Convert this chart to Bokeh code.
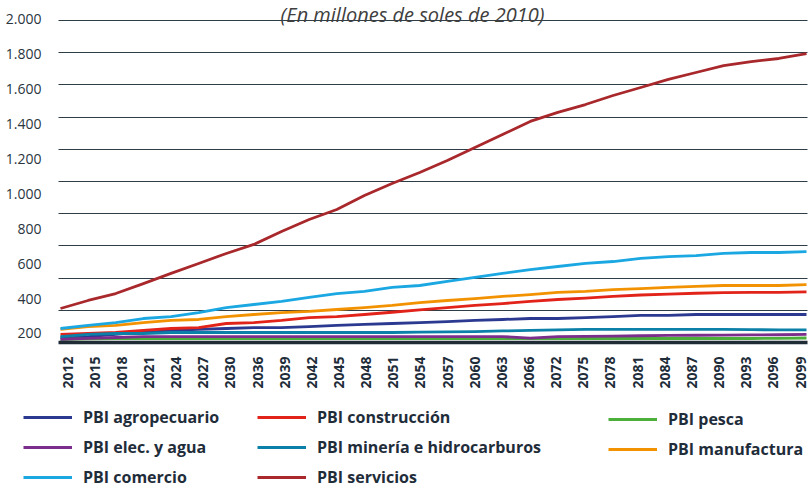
import math
from bokeh.plotting import figure
from bokeh.models import Range1d, LinearAxis, FixedTicker, Grid, Legend, LegendItem, Label, ColumnDataSource
from bokeh.embed import file_html
from bokeh.resources import INLINE

# ---------------- data ----------------
years = [2012, 2015, 2018, 2021, 2024, 2027, 2030, 2036, 2039, 2042, 2045, 2048, 2051, 2054,
         2057, 2060, 2063, 2066, 2072, 2075, 2078, 2081, 2084, 2087, 2090, 2093, 2096, 2099]

agropecuario = [31, 37, 50, 68, 75, 81, 87, 93, 93, 99, 106, 112, 118, 124,
                130, 137, 143, 149, 149, 155, 161, 168, 168, 174, 174, 174, 174, 174]
construccion = [50, 56, 62, 75, 87, 93, 118, 124, 137, 155, 161, 174, 188, 203,
                217, 230, 242, 255, 267, 276, 286, 295, 301, 306, 310, 311, 311, 314]
pesca = [19, 22, 25, 25, 25, 25, 25, 25, 25, 25, 25, 25, 25, 25,
         25, 25, 25, 25, 25, 25, 25, 25, 25, 25, 25, 25, 26, 28]
elec_agua = [19, 25, 31, 37, 37, 37, 37, 37, 37, 37, 37, 37, 37, 37,
             37, 37, 37, 27, 37, 38, 40, 42, 44, 45, 46, 47, 48, 50]
mineria = [37, 50, 56, 56, 62, 62, 62, 62, 62, 62, 62, 62, 62, 65,
           66, 68, 72, 75, 78, 81, 81, 81, 81, 81, 81, 80, 78, 78]
manufactura = [81, 99, 106, 124, 137, 143, 161, 174, 186, 193, 205, 217, 230, 248,
               261, 273, 286, 298, 311, 317, 329, 335, 342, 348, 354, 354, 354, 360]
comercio = [87, 106, 124, 149, 161, 186, 217, 236, 255, 280, 304, 317, 342, 354,
            379, 404, 429, 453, 472, 491, 503, 522, 534, 540, 553, 559, 559, 565]
servicios = [211, 261, 304, 366, 429, 491, 553, 609, 689, 764, 826, 913, 988, 1056,
             1130, 1211, 1292, 1373, 1429, 1478, 1534, 1584, 1634, 1677, 1720, 1745, 1764, 1795]

series_names = ["PBI agropecuario", "PBI construcción", "PBI pesca", "PBI elec. y agua",
                "PBI minería e hidrocarburos", "PBI manufactura", "PBI comercio", "PBI servicios"]
series_values = [agropecuario, construccion, pesca, elec_agua, mineria, manufactura, comercio, servicios]
series_colors = ["#2b3990", "#e2231a", "#4caf3a", "#7c2e8c", "#0b80a8", "#f39200", "#1ba8e2", "#a8282c"]

grid_values = [200, 400, 600, 800, 1000, 1200, 1400, 1600, 1800, 2000]
y_tick_values = [200, 400, 600, 800, 1000, 1200, 1400, 1600, 1800, 2000]
y_tick_labels = ["200", "400", "600", "800", "1.000", "1.200", "1.400", "1.600", "1.800", "2.000"]
title_text = "(En millones de soles de 2010)"

# ---------------- figure (frame covers the whole canvas) ----------------
idx = list(range(len(years)))
p = figure(width=809, height=489, output_backend="svg", toolbar_location=None,
           x_axis_location=None, y_axis_location=None,
           x_range=Range1d(-2.1716, 27.1086), y_range=Range1d(-913.04, 2124.22),
           min_border_left=0, min_border_right=0, min_border_top=0, min_border_bottom=0)
p.outline_line_color = None
p.background_fill_color = "white"
p.border_fill_color = "white"
for g in list(p.grid):
    g.visible = False
p.extra_x_ranges = {"xlab": Range1d(-2.4680, 27.3315)}
p.extra_y_ranges = {"ylab": Range1d(-694.3, 2108.9)}

plot_left, plot_right = -0.0724, 27.0362   # x-extent of the plotting area (main x units)

grid = Grid(dimension=1, ticker=FixedTicker(ticks=grid_values),
            grid_line_color="#2f3d47", grid_line_width=1)
if "cross_bounds" in Grid.properties():
    grid.cross_bounds = (plot_left, plot_right)
p.add_layout(grid)

renderers = []
for name, vals, col in zip(series_names, series_values, series_colors):
    src = ColumnDataSource(dict(x=idx, y=vals))
    r = p.line("x", "y", source=src, line_color=col, line_width=2.8, line_join="round")
    renderers.append(r)

xaxis = LinearAxis(x_range_name="xlab", ticker=FixedTicker(ticks=idx),
                   major_label_overrides={i: str(y) for i, y in zip(idx, years)})
xaxis.fixed_location = 0
xaxis.bounds = (-0.3315, 27.258)
xaxis.major_label_orientation = math.pi / 2
xaxis.major_tick_line_color = None
xaxis.minor_tick_line_color = None
xaxis.axis_line_width = 3.5
xaxis.axis_line_color = "#1f2b35"
xaxis.major_label_text_font = "Open Sans"
xaxis.major_label_text_font_style = "bold"
xaxis.major_label_text_font_size = "14px"
xaxis.major_label_text_color = "#1f2d3a"
xaxis.major_label_standoff = 8
p.add_layout(xaxis, "below")

yaxis = LinearAxis(y_range_name="ylab", ticker=FixedTicker(ticks=y_tick_values),
                   major_label_overrides={v: s for v, s in zip(y_tick_values, y_tick_labels)})
yaxis.fixed_location = plot_left
yaxis.major_tick_line_color = None
yaxis.minor_tick_line_color = None
yaxis.axis_line_color = None
yaxis.major_label_text_font = "Open Sans"
yaxis.major_label_text_font_size = "14px"
yaxis.major_label_text_color = "#2a3540"
yaxis.major_label_standoff = 11
p.add_layout(yaxis, "left")

title = Label(x=12.74, y=2037.0, text=title_text, text_align="center", text_baseline="alphabetic",
              text_font="Open Sans", text_font_style="italic", text_font_size="20px",
              text_color="#404040")
p.add_layout(title)

# ---------------- legend: three columns ----------------
columns = [[0, 3, 6], [1, 4, 7], [2, 5]]
col_x = [23, 257, 608]
for cols, cx in zip(columns, col_x):
    items = [LegendItem(label=series_names[i], renderers=[renderers[i]]) for i in cols]
    h = len(cols) * 20 + (len(cols) - 1) * 8
    leg = Legend(items=items, location=(cx, 489 - 412 - h),
                 orientation="vertical", glyph_width=49, glyph_height=20, label_height=20,
                 label_standoff=11, spacing=8, padding=0, margin=0,
                 border_line_color=None, background_fill_alpha=0,
                 label_text_font="Open Sans", label_text_font_style="bold",
                 label_text_font_size="16px", label_text_color="#1f2d3a")
    p.add_layout(leg)

open("out.html", "w").write(file_html(p, INLINE))
